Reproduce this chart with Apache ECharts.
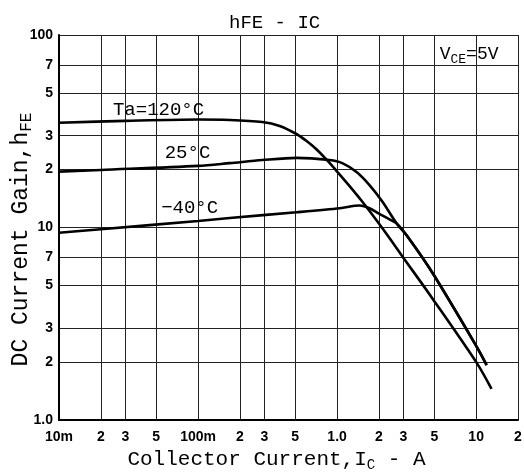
<!doctype html>
<html>
<head>
<meta charset="UTF-8">
<title>hFE - IC</title>
<style>
	html, body { margin: 0; padding: 0; background: #fff; }
	#chart { width: 524px; height: 474px; }
</style>
</head>
<body>
<div id="chart"></div>
<script src="https://cdn.jsdelivr.net/npm/echarts@6/dist/echarts.min.js"></script>
<script>
// collector current (A) / dc current gain
var ic120 = [0.01, 0.03, 0.1, 0.169, 0.29, 0.386, 0.51, 0.6, 0.71, 0.84, 0.99, 1.23, 1.52, 1.92, 2.4, 2.9, 4.86, 10.1, 12.9];
var hfe120 = [35, 35.8, 36.4, 36.2, 35.3, 33.7, 30.6, 28.2, 25.5, 22.5, 19.7, 16.4, 13.6, 10.9, 8.75, 7.2, 4.27, 1.98, 1.45];

var ic25 = [0.01, 0.02, 0.1, 0.169, 0.29, 0.51, 0.88, 1.09, 1.38, 1.71, 2.12, 2.68, 3.2, 4.86, 10.1, 11.9];
var hfe25 = [19.5, 19.9, 20.9, 21.6, 22.4, 23.0, 22.4, 21.6, 19.4, 16.6, 13.6, 10.5, 9.0, 5.8, 2.4, 1.93];

var icM40 = [0.01, 0.02, 0.1, 0.169, 0.51, 1.05, 1.45, 1.71, 2.0, 2.4, 2.68, 3.2, 4.86, 10.1, 11.9];
var hfeM40 = [9.4, 9.8, 10.8, 11.2, 12.0, 12.6, 13.0, 12.6, 11.8, 11.0, 10.5, 9.0, 5.8, 2.4, 1.93];

var xTicks = [0.01, 0.02, 0.03, 0.05, 0.1, 0.2, 0.3, 0.5, 1, 2, 3, 5, 10, 20];
var xTickLabels = ['10m', '2', '3', '5', '100m', '2', '3', '5', '1.0', '2', '3', '5', '10', '2'];
var yTicks = [1, 2, 3, 5, 7, 10, 20, 30, 50, 70, 100];
var yTickLabels = ['1.0', '2', '3', '5', '7', '10', '2', '3', '5', '7', '100'];

// curve annotations [x, y, text]
var notes = [
	[0.052, 41, 'Ta=120°C'],
	[0.084, 24.4, '25°C'],
	[0.087, 12.6, '−40°C']
];

function pairs(xs, ys) {
	var out = [];
	for (var i = 0; i < xs.length; i++) out.push([xs[i], ys[i]]);
	return out;
}

function tickText(ticks, labels) {
	return function (v) {
		for (var i = 0; i < ticks.length; i++) {
			if (Math.abs(Math.log10(v) - Math.log10(ticks[i])) < 1e-6) return labels[i];
		}
		return '';
	};
}

var mono = 'Liberation Mono, DejaVu Sans Mono, monospace';
var tickFont = {
	color: '#000',
	fontFamily: 'Liberation Sans Narrow, Liberation Sans, sans-serif',
	fontWeight: 'bold',
	fontSize: 14
};

function curve(name, data, note) {
	return {
		name: name,
		type: 'line',
		data: data,
		smooth: 0.3,
		showSymbol: false,
		lineStyle: { color: '#000', width: 2.6 },
		markPoint: {
			symbol: 'circle',
			symbolSize: 0,
			label: {
				show: true,
				position: 'inside',
				formatter: note[2],
				color: '#000',
				fontFamily: mono,
				fontSize: 19
			},
			data: [{ coord: [note[0], note[1]] }]
		}
	};
}

var series = [
	curve('120', pairs(ic120, hfe120), notes[0]),
	curve('25', pairs(ic25, hfe25), notes[1]),
	curve('-40', pairs(icM40, hfeM40), notes[2])
];
series[0].markPoint.data.push({
	coord: [8.9, 79],
	label: {
		formatter: '{v|V}{s|CE}{v|=5V}',
		rich: {
			v: { fontFamily: mono, fontSize: 18, color: '#000' },
			s: { fontFamily: mono, fontSize: 13, color: '#000', padding: [10, 0, 0, 0] }
		}
	}
});

var chart = echarts.init(document.getElementById('chart'));
chart.setOption({
	animation: false,
	backgroundColor: '#fff',
	title: {
		text: 'hFE - IC',
		left: 224,
		top: 8,
		textStyle: { fontFamily: mono, fontSize: 19, fontWeight: 'normal', color: '#000' }
	},
	grid: { left: 59, right: 6, top: 35, bottom: 54, containLabel: false, outerBoundsMode: 'none' },
	xAxis: {
		type: 'log',
		logBase: 10,
		min: 0.01,
		max: 20,
		name: '{a|Collector Current,I}{s|C}{a| - A}',
		nameLocation: 'middle',
		nameGap: 26,
		nameTextStyle: {
			padding: [0, 24, 0, 0],
			rich: {
				a: { fontFamily: mono, fontSize: 21, color: '#000' },
				s: { fontFamily: mono, fontSize: 14, color: '#000', padding: [12, 0, 0, 0] }
			}
		},
		axisLine: { show: true, lineStyle: { color: '#000', width: 2 } },
		axisTick: { show: false, customValues: xTicks },
		axisLabel: Object.assign({ customValues: xTicks, margin: 10, formatter: tickText(xTicks, xTickLabels) }, tickFont),
		splitLine: { show: true, lineStyle: { color: '#222', width: 1 } }
	},
	yAxis: {
		type: 'log',
		logBase: 10,
		min: 1,
		max: 100,
		name: '{a|DC Current Gain,h}{s|FE}',
		nameLocation: 'middle',
		nameRotate: 90,
		nameGap: 24,
		nameMoveOverlap: false,
		nameTextStyle: {
			padding: [0, 24, 0, 0],
			rich: {
				a: { fontFamily: mono, fontSize: 23, color: '#000' },
				s: { fontFamily: mono, fontSize: 16, color: '#000', padding: [12, 0, 0, 0] }
			}
		},
		axisLine: { show: true, lineStyle: { color: '#000', width: 2 } },
		axisTick: { show: false, customValues: yTicks },
		axisLabel: Object.assign({ customValues: yTicks, margin: 6, formatter: tickText(yTicks, yTickLabels) }, tickFont),
		splitLine: { show: true, lineStyle: { color: '#222', width: 1 } }
	},
	series: series
});
</script>
</body>
</html>
